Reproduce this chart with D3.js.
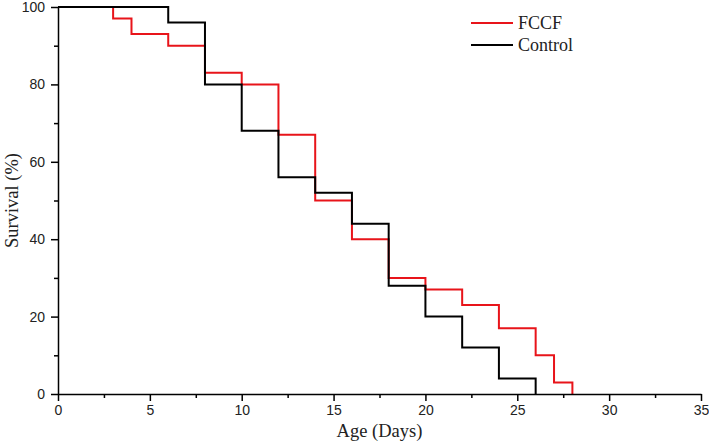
<!DOCTYPE html>
<html><head><meta charset="utf-8">
<script src="https://cdn.jsdelivr.net/npm/d3@7/dist/d3.min.js"></script>
<style>body{margin:0;background:#fff}svg{display:block}</style>
</head><body>
<svg id="c" width="709" height="442"></svg>
<script>
// Step times (days) and survival (%) after each step
const fccfDays = [0, 3, 4, 6, 8, 10, 12, 14, 16, 18, 20, 22, 24, 26, 27, 28];
const fccfSurv = [100, 97, 93, 90, 83, 80, 67, 50, 40, 30, 27, 23, 17, 10, 3, 0];
const ctrlDays = [0, 6, 8, 10, 12, 14, 16, 18, 20, 22, 24, 26];
const ctrlSurv = [100, 96, 80, 68, 56, 52, 44, 28, 20, 12, 4, 0];
const xTicks = [0, 5, 10, 15, 20, 25, 30, 35];
const yTicks = [0, 20, 40, 60, 80, 100];
const seriesNames = ["FCCF", "Control"];

const svg = d3.select("#c");
const m = {l: 58, r: 701, t: 7, b: 394};
const x = d3.scaleLinear().domain([0, 35]).range([m.l, m.r]);
const y = d3.scaleLinear().domain([0, 100]).range([m.b, m.t]);

const line = d3.line().x(d => x(d[0])).y(d => y(d[1])).curve(d3.curveStepAfter);
function pts(days, surv){ return days.map((d,i)=>[d, surv[i]]); }

svg.append("path").datum(pts(fccfDays, fccfSurv)).attr("d", line)
  .attr("fill","none").attr("stroke","#e8141a").attr("stroke-width",2);
svg.append("path").datum(pts(ctrlDays, ctrlSurv)).attr("d", line)
  .attr("fill","none").attr("stroke","#000").attr("stroke-width",2);

// axes
const xAxis = svg.append("g").attr("transform",`translate(0,${m.b})`)
  .call(d3.axisBottom(x).tickValues(xTicks).tickSize(7).tickPadding(4).tickSizeOuter(0));
const xMinor = svg.append("g").attr("transform",`translate(0,${m.b})`)
  .call(d3.axisBottom(x).tickValues(d3.range(2.5,35,5)).tickSize(4).tickFormat("").tickSizeOuter(0));
const yAxis = svg.append("g").attr("transform",`translate(${m.l},0)`)
  .call(d3.axisLeft(y).tickValues(yTicks).tickSize(7).tickPadding(6).tickSizeOuter(0));
const yMinor = svg.append("g").attr("transform",`translate(${m.l},0)`)
  .call(d3.axisLeft(y).tickValues(d3.range(10,100,20)).tickSize(4).tickFormat("").tickSizeOuter(0));
[xAxis,xMinor,yAxis,yMinor].forEach(g=>{
  g.selectAll("path,line").attr("stroke","#000").attr("stroke-width",1.5);
  g.selectAll("text").attr("fill","#222").attr("font-family","'Liberation Sans', Arial, sans-serif").attr("font-size",14);
});
xMinor.select("path").remove(); yMinor.select("path").remove();

const serif = "'Liberation Serif', 'Times New Roman', serif";
svg.append("text").attr("x",(m.l+m.r)/2).attr("y",437).attr("text-anchor","middle")
  .attr("font-family",serif).attr("font-size",18.5).attr("fill","#222")
  .text("Age (Days)");
svg.append("text").attr("transform",`translate(18,${(m.t+m.b)/2}) rotate(-90)`).attr("text-anchor","middle")
  .attr("font-family",serif).attr("font-size",18.5).attr("fill","#222")
  .text("Survival (%)");

// legend
const leg = svg.append("g");
const colors = ["#e8141a", "#000"];
seriesNames.forEach((n,i)=>{
  const yy = 23 + i*22;
  leg.append("line").attr("x1",471).attr("x2",513).attr("y1",yy).attr("y2",yy)
    .attr("stroke",colors[i]).attr("stroke-width",2);
  leg.append("text").attr("x",518).attr("y",yy+6).attr("font-family",serif)
    .attr("font-size",18).attr("fill","#222").text(n);
});
</script>
</body></html>
